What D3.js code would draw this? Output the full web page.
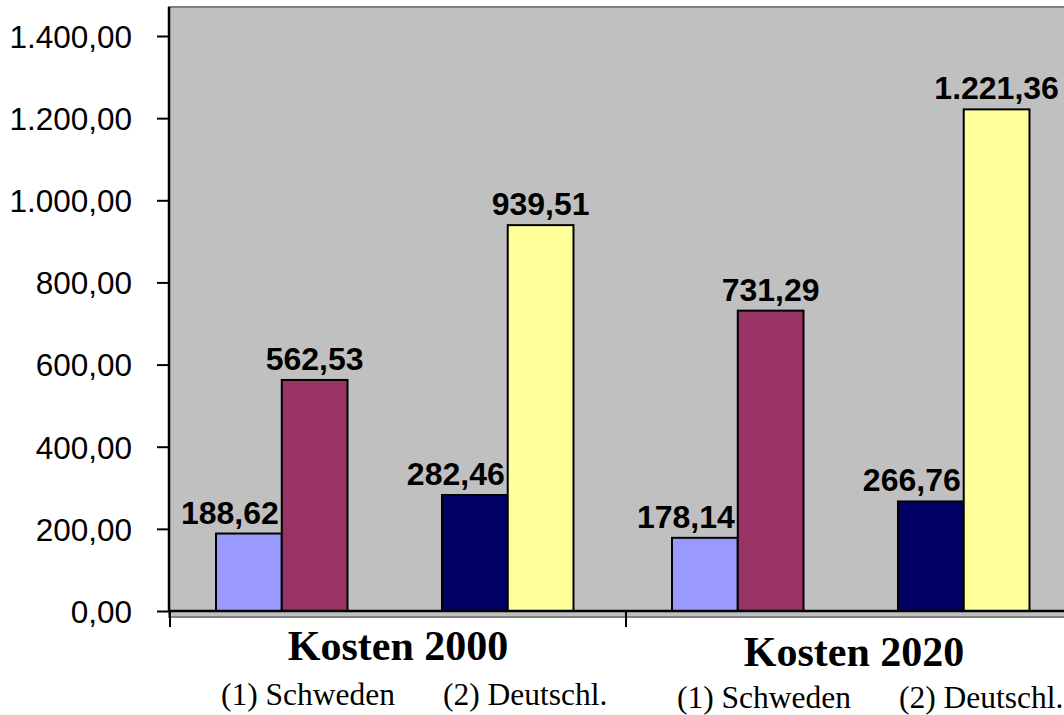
<!DOCTYPE html>
<html>
<head>
<meta charset="utf-8">
<script src="https://cdn.jsdelivr.net/npm/d3@7"></script>
<style>
  html, body { margin: 0; padding: 0; background: #ffffff; overflow: hidden; }
  svg { display: block; }
</style>
</head>
<body>
<svg id="chart" width="1064" height="715"></svg>
<script>
// ---- data ----
const categories = ["Kosten 2000", "Kosten 2020"];
const groups = ["(1) Schweden", "(2) Deutschl."];
const schwedenA = [188.62, 178.14];
const schwedenB = [562.53, 731.29];
const deutschA = [282.46, 266.76];
const deutschB = [939.51, 1221.36];
const yTicks = [0, 200, 400, 600, 800, 1000, 1200, 1400];

const seriesColors = { schwedenA: "#9999ff", schwedenB: "#993366", deutschA: "#000066", deutschB: "#ffff99" };

const rows = [];
categories.forEach((c, i) => {
  rows.push({ cat: c, group: groups[0], sub: "a", key: "schwedenA", value: schwedenA[i] });
  rows.push({ cat: c, group: groups[0], sub: "b", key: "schwedenB", value: schwedenB[i] });
  rows.push({ cat: c, group: groups[1], sub: "a", key: "deutschA", value: deutschA[i] });
  rows.push({ cat: c, group: groups[1], sub: "b", key: "deutschB", value: deutschB[i] });
});

const de = d3.formatLocale({ decimal: ",", thousands: ".", grouping: [3], currency: ["", " €"] });
const fmt = de.format(",.2f");

const svg = d3.select("#chart");
const plotLeft = 169, plotTop = 7, plotBottom = 611;

const x0 = d3.scaleBand().domain(categories).range([170, 1082]).padding(0);
const x1 = d3.scaleBand().domain(groups).range([0, x0.bandwidth()])
  .paddingInner(0.418).paddingOuter(0.218).align(0.467);
const x2 = d3.scaleBand().domain(["a", "b"]).range([0, x1.bandwidth()]).padding(0);
const y = d3.scaleLinear().domain([0, 1400]).range([plotBottom, 36]);

// plot area
svg.append("rect")
  .attr("x", plotLeft).attr("y", plotTop)
  .attr("width", 1064 - plotLeft + 20).attr("height", 617 - plotTop)
  .attr("fill", "#c0c0c0").attr("stroke", "#808080").attr("stroke-width", 2);

// bars
const barX = d => x0(d.cat) + x1(d.group) + x2(d.sub);
svg.append("g").selectAll("rect").data(rows).join("rect")
  .attr("x", barX)
  .attr("y", d => y(d.value))
  .attr("width", x2.bandwidth())
  .attr("height", d => y(0) - y(d.value))
  .attr("fill", d => seriesColors[d.key])
  .attr("stroke", "#000").attr("stroke-width", 2);

// data labels
svg.append("g").selectAll("text").data(rows).join("text")
  .attr("x", d => d.sub === "a" ? barX(d) + x2.bandwidth() - 3 : barX(d) + x2.bandwidth() / 2)
  .attr("y", d => y(d.value) - 10)
  .attr("text-anchor", d => d.sub === "a" ? "end" : "middle")
  .attr("font-family", "'Liberation Sans', Arial, Helvetica, sans-serif")
  .attr("font-weight", "bold")
  .attr("font-size", 32)
  .attr("fill", "#000")
  .text(d => fmt(d.value));

// y axis
const yAxis = svg.append("g").attr("transform", `translate(${plotLeft},0)`)
  .call(d3.axisLeft(y).tickValues(yTicks).tickSize(12).tickPadding(25).tickFormat(fmt));
yAxis.select(".domain").attr("stroke", "#000").attr("stroke-width", 2.5)
  .attr("d", `M0,${plotTop}V${plotBottom}`);
yAxis.selectAll(".tick line").attr("stroke", "#000").attr("stroke-width", 2);
yAxis.selectAll(".tick text")
  .attr("font-family", "'Liberation Sans', Arial, Helvetica, sans-serif")
  .attr("font-size", 31.5).attr("fill", "#000").attr("dy", "0.36em");

// x axis line and category boundary ticks
svg.append("line").attr("x1", plotLeft).attr("x2", 1064).attr("y1", y(0)).attr("y2", y(0))
  .attr("stroke", "#000").attr("stroke-width", 2.5);
const bounds = categories.map(c => x0(c)).concat([x0.range()[1]]);
svg.append("g").selectAll("line").data(bounds).join("line")
  .attr("x1", d => d).attr("x2", d => d)
  .attr("y1", y(0)).attr("y2", 627)
  .attr("stroke", "#000").attr("stroke-width", 2);

// category labels
const catShift = [0, 6];
svg.append("g").selectAll("text").data(categories).join("text")
  .attr("x", c => x0(c) + x0.bandwidth() / 2)
  .attr("y", (c, i) => 660 + catShift[i])
  .attr("text-anchor", "middle")
  .attr("font-family", "'Liberation Serif', 'Times New Roman', serif")
  .attr("font-weight", "bold")
  .attr("font-size", 42)
  .attr("fill", "#000")
  .text(c => c);

const subOffsets = [51, 273];
const subShift = [0, 3];
categories.forEach((c, i) => {
  svg.append("g").selectAll("text").data(groups).join("text")
    .attr("x", (g, j) => x0(c) + subOffsets[j])
    .attr("y", 705 + subShift[i])
    .attr("text-anchor", "start")
    .attr("font-family", "'Liberation Serif', 'Times New Roman', serif")
    .attr("font-size", 31.5)
    .attr("fill", "#000")
    .text(g => g);
});
</script>
</body>
</html>
